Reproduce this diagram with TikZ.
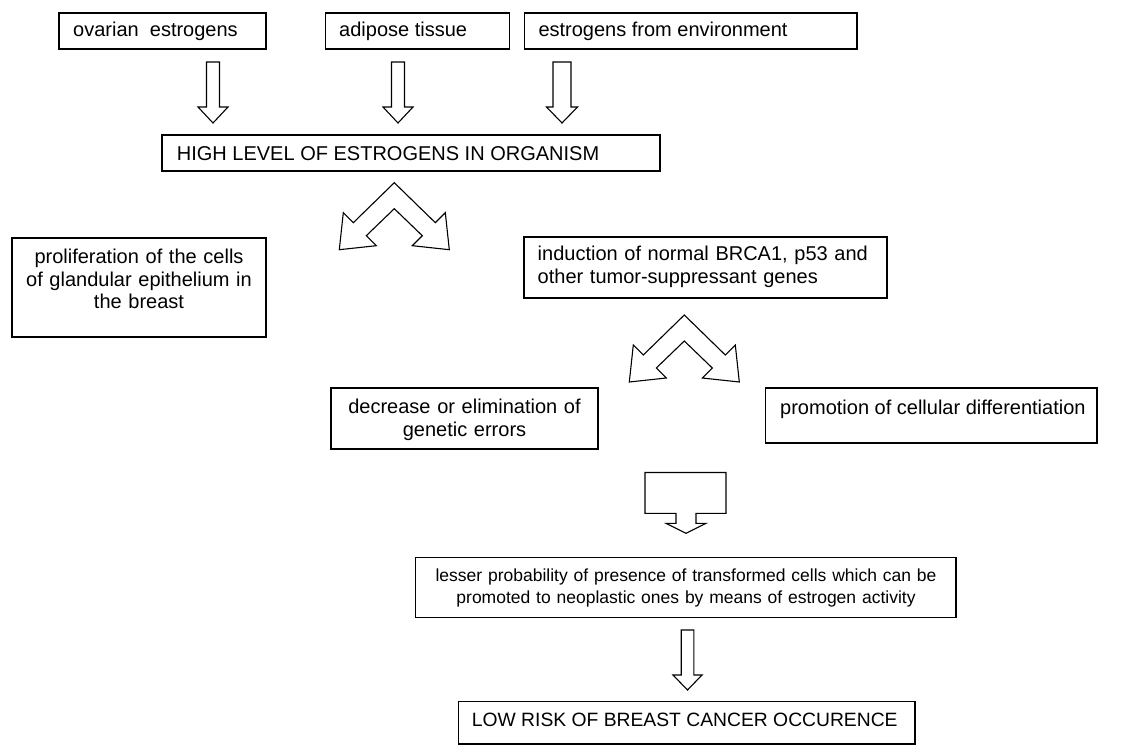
\documentclass[tikz,border=0pt]{standalone}
\usepackage{fontspec}
\setmainfont{Liberation Sans}
\usetikzlibrary{fit}

% hollow down arrow: centre x, shaft top, head base, tip, shaft half width, head half width
\newcommand\blockdown[6]{%
  \draw[blockarrow] (#1-#5,#2) -- (#1+#5,#2) -- (#1+#5,#3) -- (#1+#6,#3)
    -- (#1,#4) -- (#1-#6,#3) -- (#1-#5,#3) -- cycle;}

\begin{document}
\begin{tikzpicture}[x=1pt,y=-1pt,
  box/.style={draw, line width=1.2pt, inner sep=0pt},
  txt/.style={inner sep=0pt, font=\fontsize{20}{23}\selectfont},
  smalltxt/.style={inner sep=0pt, font=\fontsize{17.5}{21.7}\selectfont},
  lowtxt/.style={inner sep=0pt, font=\fontsize{19.3}{23}\selectfont},
  blockarrow/.style={draw, line width=1.1pt, fill=white, line join=miter},
  fork/.pic={\draw[blockarrow] (0,0) -- (41,40) -- (51,30) -- (55,67) -- (18,63)
     -- (28,53) -- (0,26) -- (-28,53) -- (-18,63) -- (-55,67) -- (-51,30)
     -- (-41,40) -- cycle;}]
\useasboundingbox[fill=white] (0,0) rectangle (1130,746);

% sources
\node[box, fit={(59,13) (266,49)}] (ovarian) {};
\node[txt, anchor=base west] (ovarianT) at (73,37) {ovarian\ \ estrogens};
\node[box, fit={(325.7,13) (509.3,49)}] (adipose) {};
\node[txt, anchor=base west] (adiposeT) at (339,37) {adipose tissue};
\node[box, fit={(524.3,13) (857,49)}] (environ) {};
\node[txt, anchor=base west] (environT) at (538.3,37) {estrogens from environment};

\blockdown{213}{62}{107}{123}{6.5}{15}
\blockdown{398}{62}{107}{123}{6.5}{15}
\blockdown{562}{62}{107}{123}{9}{15.5}

% central level
\node[box, fit={(162,135) (660,171)}] (high) {};
\node[txt, anchor=base west] (highT) at (176.7,160.5) {HIGH LEVEL OF ESTROGENS IN ORGANISM};

\pic at (394.3,182.7) {fork};

% two branches
\node[box, fit={(12,238) (266,337)}] (prolif) {};
\node[txt, anchor=base, align=center, text width=250pt] (prolifT) at (139,263)
  {proliferation of the cells\\of glandular epithelium in\\the breast};
\node[box, fit={(524,237) (887,298)}] (induct) {};
\node[txt, anchor=base west, align=left, text width=340pt] (inductT) at (537.5,261)
  {induction of normal BRCA1, p53 and\\other tumor-suppressant genes};

\pic at (684.3,315) {fork};

\node[box, fit={(331,388) (598,449)}] (decrease) {};
\node[txt, anchor=base, align=center, text width=260pt] (decreaseT) at (464.5,413)
  {decrease or elimination of\\genetic errors};
\node[box, fit={(765.7,388) (1097,443)}] (promo) {};
\node[txt, anchor=base west] (promoT) at (780,414) {promotion of cellular differentiation};

% combined outcome
\draw[blockarrow] (645,472.5) -- (726,472.5) -- (726,513.3) -- (696,513.3)
  -- (696,523.3) -- (706,523.3) -- (686,533.3) -- (666,523.3) -- (676,523.3)
  -- (676,513.3) -- (645,513.3) -- cycle;

\node[box, fit={(415.7,557.7) (956,617.7)}] (lesser) {};
\node[smalltxt, anchor=base, align=center, text width=530pt] (lesserT) at (686,581.7)
  {lesser probability of presence of transformed cells which can be\\promoted to neoplastic ones by means of estrogen activity};

\blockdown{687.5}{630}{675}{690}{6.3}{14.5}

\node[box, fit={(458.3,701.7) (915,744)}] (low) {};
\node[lowtxt, anchor=base west] (lowT) at (471.7,726.7) {LOW RISK OF BREAST CANCER OCCURENCE};
\end{tikzpicture}
\end{document}
